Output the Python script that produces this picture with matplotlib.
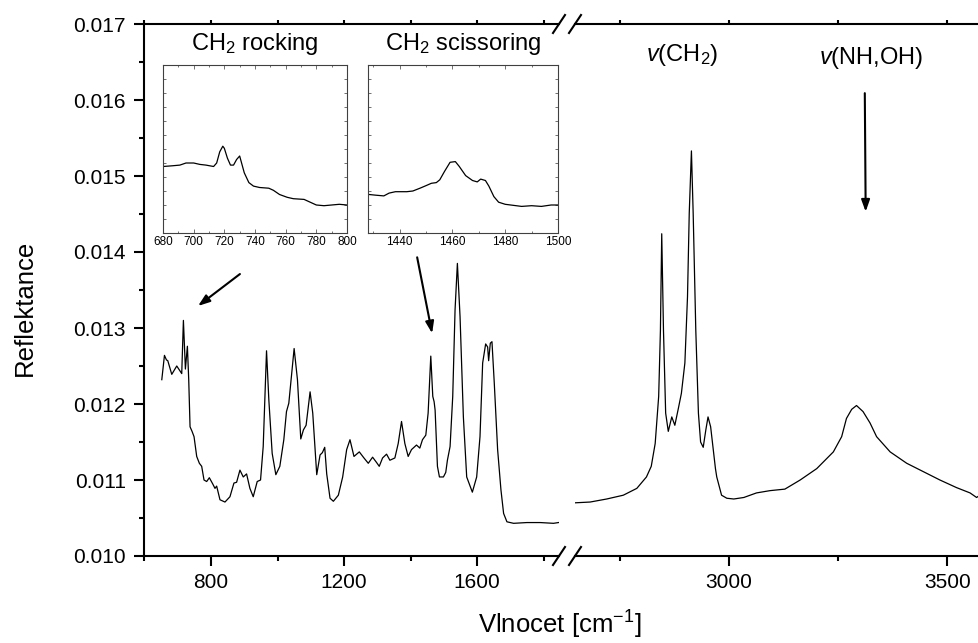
import numpy as np
import matplotlib
matplotlib.use("Agg")
import matplotlib.pyplot as plt
from matplotlib.ticker import MultipleLocator, FormatStrFormatter, FixedLocator
from matplotlib.lines import Line2D

plt.rcParams['font.family'] = ['Liberation Sans', 'DejaVu Sans']
plt.rcParams['mathtext.fontset'] = 'custom'
plt.rcParams['mathtext.rm'] = 'Liberation Sans'
plt.rcParams['mathtext.it'] = 'Liberation Sans:italic'

#DATA - left part of the spectrum
left_wn = [652, 660, 666, 670, 682, 697, 712, 717, 723, 729, 733, 737, 743, 749, 757, 765,
           772, 779, 787, 795, 805, 812, 817, 827, 842, 857, 869, 877, 887, 897, 907, 917,
           927, 939, 949, 957, 967, 974, 984, 995, 1007, 1019, 1027, 1034, 1050, 1060, 1070,
           1078, 1086, 1098, 1106, 1118, 1128, 1135, 1142, 1148, 1158, 1168, 1183, 1196, 1208,
           1218, 1230, 1246, 1260, 1273, 1286, 1298, 1306, 1316, 1328, 1338, 1353, 1363, 1373,
           1383, 1393, 1403, 1418, 1428, 1436, 1446, 1453, 1461, 1467, 1471, 1474, 1481, 1487,
           1499, 1506, 1511, 1519, 1527, 1534, 1541, 1549, 1559, 1569, 1586, 1599, 1609, 1617,
           1626, 1632, 1635, 1640, 1645, 1652, 1662, 1672, 1680, 1690, 1710, 1750, 1790, 1830,
           1845]
left_refl = [0.01232, 0.01264, 0.01258, 0.01257, 0.01239, 0.01250, 0.01240, 0.01310, 0.01246,
             0.01276, 0.01232, 0.01170, 0.01164, 0.01157, 0.01131, 0.01122, 0.01118, 0.01100,
             0.01098, 0.01103, 0.01095, 0.01089, 0.01092, 0.01074, 0.01071, 0.01078, 0.01096,
             0.01097, 0.01113, 0.01104, 0.01108, 0.01089, 0.01078, 0.01098, 0.01100, 0.01144,
             0.01270, 0.01205, 0.01135, 0.01107, 0.01118, 0.01153, 0.01190, 0.01201, 0.01273,
             0.01232, 0.01154, 0.01166, 0.01172, 0.01216, 0.01188, 0.01107, 0.01133, 0.01136,
             0.01143, 0.01108, 0.01076, 0.01072, 0.01080, 0.01104, 0.01140, 0.01153, 0.01131,
             0.01137, 0.01129, 0.01122, 0.01130, 0.01123, 0.01118, 0.01129, 0.01134, 0.01126,
             0.01129, 0.01148, 0.01177, 0.01148, 0.01131, 0.01140, 0.01146, 0.01142, 0.01153,
             0.01159, 0.01188, 0.01263, 0.01210, 0.01203, 0.01192, 0.01118, 0.01104, 0.01104,
             0.01110, 0.01126, 0.01144, 0.01210, 0.01324, 0.01385, 0.01315, 0.01183, 0.01104,
             0.01084, 0.01104, 0.01157, 0.01254, 0.01279, 0.01275, 0.01257, 0.01280, 0.01282,
             0.01227, 0.01140, 0.01087, 0.01056, 0.01045, 0.01043, 0.01044, 0.01044, 0.01043,
             0.01044]

#DATA - right part of the spectrum
right_wn = [2648, 2682, 2720, 2758, 2789, 2811, 2822, 2831, 2839, 2843, 2846, 2850, 2855, 2861,
            2869, 2876, 2884, 2891, 2899, 2905, 2909, 2914, 2918, 2924, 2930, 2935, 2941, 2947,
            2952, 2958, 2964, 2969, 2972, 2983, 2995, 3011, 3034, 3063, 3094, 3128, 3163, 3201,
            3239, 3258, 3269, 3281, 3292, 3307, 3323, 3338, 3369, 3407, 3445, 3483, 3521, 3552,
            3567, 3572]
right_refl = [0.01070, 0.01071, 0.01075, 0.01080, 0.01089, 0.01104, 0.01118, 0.01148, 0.01210,
              0.01297, 0.01424, 0.01297, 0.01188, 0.01164, 0.01183, 0.01172, 0.01194, 0.01214,
              0.01254, 0.01341, 0.01451, 0.01533, 0.01451, 0.01297, 0.01188, 0.01150, 0.01143,
              0.01166, 0.01183, 0.01170, 0.01140, 0.01115, 0.01104, 0.01080, 0.01076, 0.01075,
              0.01077, 0.01083, 0.01086, 0.01088, 0.01100, 0.01115, 0.01137, 0.01157, 0.01181,
              0.01193, 0.01198, 0.01190, 0.01175, 0.01157, 0.01137, 0.01122, 0.01111, 0.01100,
              0.01090, 0.01083, 0.01077, 0.01079]

#DATA - insets
rock_wn = [680, 686, 691, 695, 700, 704, 708, 713, 715, 717, 719, 720, 722, 724, 726, 728, 730,
           731, 733, 736, 739, 743, 749, 752, 756, 761, 765, 772, 776, 780, 785, 790, 795, 800]
rock_refl = [0.01195, 0.01196, 0.01197, 0.01200, 0.01200, 0.01198, 0.01197, 0.01195, 0.01200,
             0.01216, 0.01224, 0.01221, 0.01207, 0.01197, 0.01197, 0.01205, 0.01210, 0.01202,
             0.01186, 0.01172, 0.01167, 0.01165, 0.01164, 0.01161, 0.01155, 0.01151, 0.01149,
             0.01148, 0.01144, 0.01140, 0.01139, 0.01140, 0.01141, 0.01140]

sciss_wn = [1428.4, 1431, 1434, 1436, 1438.4, 1442.7, 1445, 1447.7, 1450.2, 1452, 1453.9, 1455.2,
            1457, 1459.1, 1461.1, 1462.6, 1465, 1467.6, 1469.4, 1470.7, 1472.5, 1473.8, 1475.7,
            1477.5, 1480, 1486.2, 1490, 1493.7, 1497.4, 1500]
sciss_refl = [0.01155, 0.01154, 0.01153, 0.01157, 0.01159, 0.01159, 0.01160, 0.01164, 0.01168,
              0.01171, 0.01172, 0.01176, 0.01188, 0.01201, 0.01202, 0.01195, 0.01182, 0.01175,
              0.01173, 0.01177, 0.01175, 0.01167, 0.01152, 0.01144, 0.01141, 0.01138, 0.01139,
              0.01138, 0.01140, 0.01140]

left_xticks = [800, 1200, 1600]
right_xticks = [3000, 3500]
###

W, H = 979, 643


def fx(px):
    return px / W


def fy(py):
    return 1 - py / H


fig = plt.figure(figsize=(W / 100, H / 100), dpi=100)

ax1 = fig.add_axes([fx(144), fy(556), fx(559) - fx(144), fy(24) - fy(556)])
ax2 = fig.add_axes([fx(575), fy(556), fx(979) - fx(575), fy(24) - fy(556)])

#PLOT - main spectrum
ax1.plot(left_wn, left_refl, color='black', lw=0.9)
ax2.plot(right_wn, right_refl, color='black', lw=0.9)

ax1.set_xlim(598.5, 1846.6)
ax2.set_xlim(2647.4, 3572.5)
for ax in (ax1, ax2):
    ax.set_ylim(0.010, 0.017)
    ax.spines['top'].set_linewidth(1.5)
    ax.spines['bottom'].set_linewidth(1.5)
    ax.tick_params(axis='x', which='major', direction='out', length=7, width=1.5,
                   labelsize=15, pad=5)
    ax.tick_params(axis='x', which='minor', direction='out', length=3.5, width=1.5)
    ax.tick_params(axis='x', which='both', top=True, labeltop=False)

ax1.spines['right'].set_visible(False)
ax1.spines['left'].set_linewidth(1.5)
ax1.xaxis.set_major_locator(FixedLocator(left_xticks))
ax1.xaxis.set_minor_locator(FixedLocator([600, 1000, 1400, 1800]))
ax1.yaxis.set_major_locator(MultipleLocator(0.001))
ax1.yaxis.set_minor_locator(MultipleLocator(0.0005))
ax1.yaxis.set_major_formatter(FormatStrFormatter('%.3f'))
ax1.tick_params(axis='y', which='major', direction='out', length=7, width=1.5,
                labelsize=15, pad=6)
ax1.tick_params(axis='y', which='minor', direction='out', length=3.5, width=1.5)

ax2.spines['left'].set_visible(False)
ax2.spines['right'].set_visible(False)
ax2.xaxis.set_major_locator(FixedLocator(right_xticks))
ax2.xaxis.set_minor_locator(FixedLocator([2750, 3250]))
ax2.set_yticks([])

# top ticks are only small marks
for ax in (ax1, ax2):
    for t in ax.xaxis.get_major_ticks() + ax.xaxis.get_minor_ticks():
        t.tick2line.set_markersize(3)

# break marks
for yb in (556, 24):
    for xa, xb in ((553, 565), (569, 581)):
        fig.add_artist(Line2D([fx(xa), fx(xb)], [fy(yb + 9), fy(yb - 9)],
                              color='black', lw=1.5))

fig.text(fx(25), fy(308), 'Reflektance', rotation=90, ha='center', va='center', fontsize=18.5)
fig.text(fx(560), fy(634), 'Vlnocet [cm$^{-1}$]', ha='center', va='baseline', fontsize=18.5)

#ARROWS + LABELS
arrow = dict(arrowstyle='-|>,head_length=0.7,head_width=0.25', color='black', lw=1.5,
             mutation_scale=10, shrinkA=0, shrinkB=0)
ax1.annotate('', xy=(761, 0.01329), xytext=(887, 0.01371), arrowprops=arrow)
ax1.annotate('', xy=(1465, 0.01293), xytext=(1420, 0.01393), arrowprops=arrow)
ax2.annotate('', xy=(3313, 0.01453), xytext=(3311, 0.01609), arrowprops=arrow)
ax2.text(2892, 0.01659, '$v$(CH$_2$)', ha='center', va='center', fontsize=17)
ax2.text(3325, 0.01655, '$v$(NH,OH)', ha='center', va='center', fontsize=17)

#INSETS
ins1 = fig.add_axes([fx(163), fy(233), fx(347) - fx(163), fy(65) - fy(233)])
ins2 = fig.add_axes([fx(368), fy(233), fx(558) - fx(368), fy(65) - fy(233)])
ins1.plot(rock_wn, rock_refl, color='black', lw=0.9)
ins2.plot(sciss_wn, sciss_refl, color='black', lw=0.9)
ins1.set_xlim(680, 800)
ins2.set_xlim(1428, 1500)
ins1.xaxis.set_major_locator(MultipleLocator(20))
ins2.xaxis.set_major_locator(MultipleLocator(20))
ins1.text(0.5, 1.125, 'CH$_2$ rocking', transform=ins1.transAxes, ha='center', va='center',
          fontsize=17)
ins2.text(0.5, 1.125, 'CH$_2$ scissoring', transform=ins2.transAxes, ha='center', va='center',
          fontsize=17)
for ins in (ins1, ins2):
    ins.set_ylim(0.0110, 0.0134)
    ins.xaxis.set_minor_locator(MultipleLocator(10))
    ins.yaxis.set_major_locator(MultipleLocator(0.0002))
    ins.set_yticklabels([])
    for s in ins.spines.values():
        s.set_linewidth(0.8)
        s.set_color('0.25')
    ins.tick_params(which='both', direction='in', top=True, right=True, width=0.6,
                    color='0.35')
    ins.tick_params(which='major', length=3, labelsize=8.5, pad=2)
    ins.tick_params(which='minor', length=1.5)
    ins.tick_params(axis='y', which='both', length=2)

fig.savefig('out.png', dpi=100)
